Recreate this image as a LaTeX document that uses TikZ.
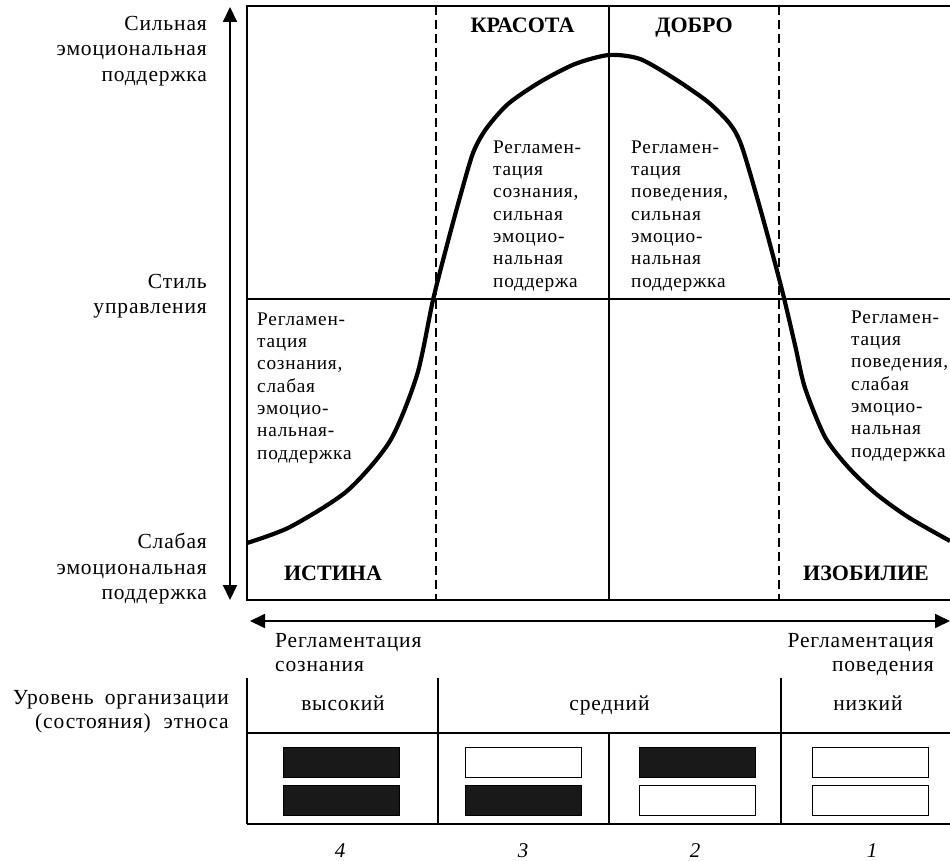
\documentclass[tikz,border=0pt]{standalone}
\usepackage{fontspec}
\setmainfont{Liberation Serif}
\newfontfamily\spaced[LetterSpace=4]{Liberation Serif}
\usetikzlibrary{arrows.meta,positioning}
\tikzset{font=\spaced}
\tikzset{
  frame/.style={line width=1.1pt},
  guide/.style={line width=1.1pt, dash pattern=on 9pt off 5pt},
  bellcurve/.style={line width=4.2pt, line join=round},
  axis/.style={line width=2pt, {Triangle[length=15pt,width=14pt]}-{Triangle[length=15pt,width=14pt]}},
  axislabel/.style={inner sep=0pt, align=right, anchor=north east, font=\spaced\fontsize{21.5}{25.5}\selectfont},
  celltext/.style={inner sep=0pt, align=left, anchor=north west, font=\spaced\fontsize{19.3}{22.3}\selectfont},
  heading/.style={inner sep=0pt, anchor=base, font=\rmfamily\bfseries\fontsize{22}{24}\selectfont},
  rowlabel/.style={inner sep=0pt, anchor=base, font=\spaced\fontsize{21.5}{24}\selectfont},
  numlabel/.style={inner sep=0pt, anchor=base, font=\rmfamily\itshape\fontsize{21}{24}\selectfont},
  bar/.style={draw, line width=1pt, fill=white, minimum width=116pt, minimum height=30pt, inner sep=0pt},
  barblack/.style={bar, fill=black!90},
}
\begin{document}
\begin{tikzpicture}[x=1pt,y=-1pt]
  \useasboundingbox (0,0) rectangle (950,861);

  % frame of the field
  \coordinate (tl) at (247,6);
  \coordinate (tr) at (950,6);
  \coordinate (bl) at (247,600);
  \coordinate (br) at (950,600);
  \coordinate (ml) at (247,299);
  \coordinate (mr) at (950,299);
  \draw[frame] (tr) -- (tl) -- (bl) -- (br);
  \draw[frame] (ml) -- (mr);
  \draw[frame] (609,6) coordinate (ct) -- (609,600) coordinate (cb);
  \draw[guide] (436,6) coordinate (dlt) -- (436,600) coordinate (dlb);
  \draw[guide] (779,6) coordinate (drt) -- (779,600) coordinate (drb);

  % axes
  \coordinate (axTop) at (230,7);
  \coordinate (axBot) at (230,600);
  \draw[axis] (axTop) -- (axBot);
  \coordinate (axLeft) at (250,621);
  \coordinate (axRight) at (950,621);
  \draw[axis,line width=1.8pt] (axLeft) -- (axRight);

  % the curve
  \draw[bellcurve] plot[smooth, tension=0.45] coordinates {
    (247,543) (290,527) (347,491) (390,441) (417,375) (433,300)
    (447,245) (460,197) (473,153) (486,129) (508,104) (540,82)
    (575,64) (609,55) (640,59) (675,79) (708,102) (730,124)
    (742,147) (762,215) (782,290) (795,345) (805,388) (825,437)
    (848,467) (875,493) (908,517) (950,541)};

  % labels of the vertical axis
  \node[axislabel] (strong) at (207,16) {Сильная\\эмоциональная\\поддержка};
  \node[axislabel] (style) at (207,274) {Стиль\\управления};
  \node[axislabel] (weak) at (207,533) {Слабая\\эмоциональная\\поддержка};

  % headings
  \node[heading] (beauty) at (522.5,33) {КРАСОТА};
  \node[heading] (good) at (694,33) {ДОБРО};
  \node[heading] (truth) at (333,580) {ИСТИНА};
  \node[heading] (plenty) at (866,580) {ИЗОБИЛИЕ};

  % cells
  \node[celltext] (c3) at (493,140.5) {Регламен-\\тация\\сознания,\\сильная\\эмоцио-\\нальная\\поддержа};
  \node[celltext] (c2) at (631,140.5) {Регламен-\\тация\\поведения,\\сильная\\эмоцио-\\нальная\\поддержка};
  \node[celltext] (c4) at (257,312.5) {Регламен-\\тация\\сознания,\\слабая\\эмоцио-\\нальная-\\поддержка};
  \node[celltext] (c1) at (851,310.5) {Регламен-\\тация\\поведения,\\слабая\\эмоцио-\\нальная\\поддержка};

  % ends of the horizontal axis
  \node[axislabel, anchor=north west, align=left, font=\spaced\fontsize{21.5}{24}\selectfont] (mind) at (275,633) {Регламентация\\сознания};
  \node[axislabel, font=\spaced\fontsize{21.5}{24}\selectfont] (deed) at (934,633) {Регламентация\\поведения};

  % table
  \node[axislabel, font=\spaced\fontsize{21.5}{24}\selectfont] (level) at (229,690) {Уровень\hspace{11pt}организации\\(состояния)\hspace{13pt}этноса};
  \draw[frame] (247,678) coordinate (t0) -- (247,824) coordinate (b0);
  \draw[frame] (438,678) coordinate (t1) -- (438,824) coordinate (b1);
  \draw[frame] (781,678) coordinate (t3) -- (781,824) coordinate (b3);
  \draw[frame] (609,733) coordinate (t2) -- (609,824) coordinate (b2);
  \draw[frame] (247,733) coordinate (hl) -- (950,733) coordinate (hr);
  \draw[frame] (b0) -- (950,824) coordinate (br2);

  \node[rowlabel] (high) at (343,710) {высокий};
  \node[rowlabel] (mid) at (609.5,710) {средний};
  \node[rowlabel] (low) at (868,710) {низкий};

  \node[barblack] (b4u) at (341,762) {};
  \node[barblack] (b4d) at (341,800) {};
  \node[bar] (b3u) at (523,762) {};
  \node[barblack] (b3d) at (523,800) {};
  \node[barblack] (b2u) at (697,762) {};
  \node[bar] (b2d) at (697,800) {};
  \node[bar] (b1u) at (870.5,762) {};
  \node[bar] (b1d) at (870.5,800) {};

  \node[numlabel] (n4) at (340,857) {4};
  \node[numlabel] (n3) at (523,857) {3};
  \node[numlabel] (n2) at (695,857) {2};
  \node[numlabel] (n1) at (872,857) {1};
\end{tikzpicture}
\end{document}
